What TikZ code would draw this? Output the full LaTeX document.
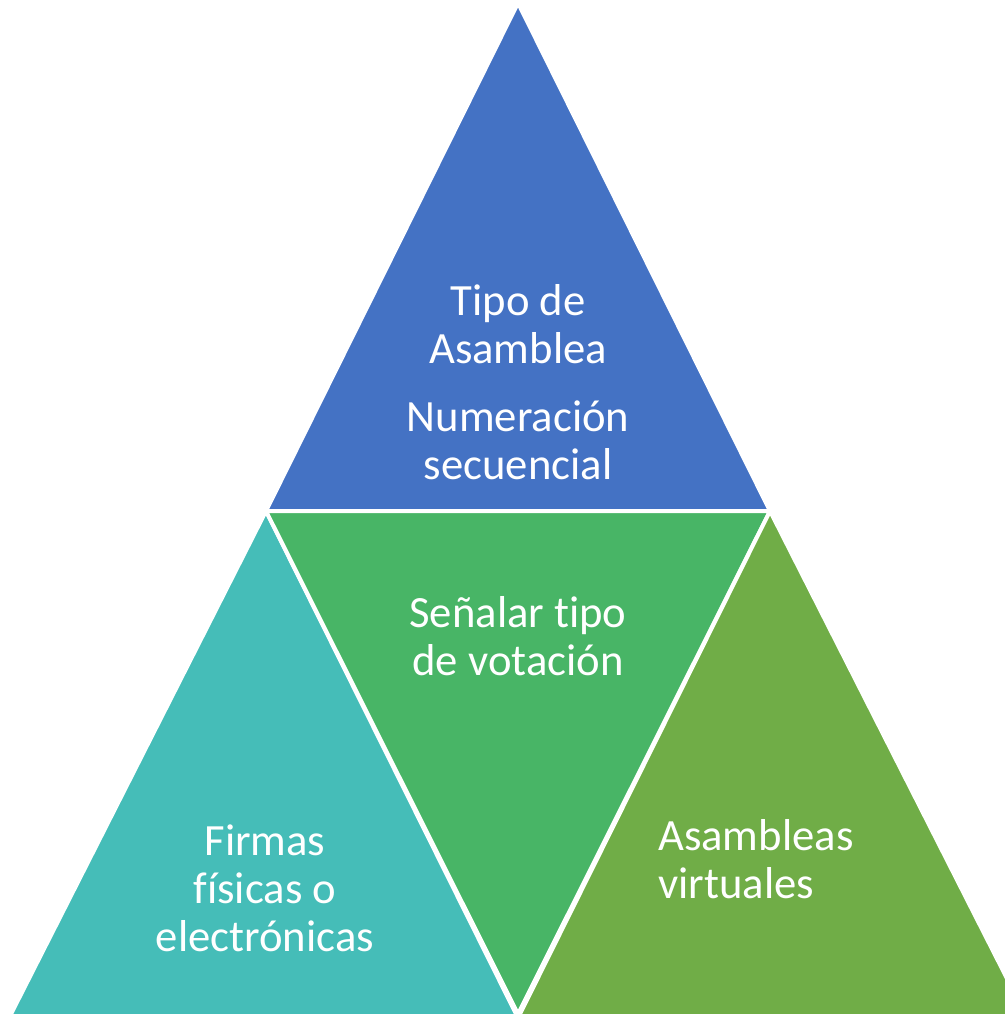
\documentclass[tikz,border=0pt]{standalone}
\usepackage{fontspec}
\setmainfont{Carlito}[RawFeature={-liga;-dlig;-calt;-clig}]
\definecolor{cblue}{HTML}{4472C4}
\definecolor{cgreen}{HTML}{48B566}
\definecolor{cteal}{HTML}{45BDB8}
\definecolor{colive}{HTML}{70AD47}
\begin{document}
\begin{tikzpicture}[x=0.75pt,y=-0.75pt,
  tri/.style={draw=white,line width=3pt,line join=miter},
  lbl/.style={text=white,font=\fontsize{33.5}{36}\selectfont,inner sep=0pt}]
\useasboundingbox (0,0) rectangle (1005,1014);
\clip (0,0) rectangle (1005,1014);
\coordinate (A) at (518,3);
\coordinate (B) at (266,511);
\coordinate (C) at (770,511);
\coordinate (D) at (9,1018);
\coordinate (E) at (518,1018);
\coordinate (F) at (1027,1018);
\coordinate (G) at (518,1014);
\filldraw[tri,fill=cblue] (A) -- (B) -- (C) -- cycle;
\filldraw[tri,fill=cteal] (B) -- (D) -- (E) -- cycle;
\filldraw[tri,fill=cgreen] (B) -- (C) -- (G) -- cycle;
\filldraw[tri,fill=colive] (C) -- (E) -- (F) -- cycle;
\node[lbl,align=center] (t1) at (518,324) {Tipo de\\Asamblea};
\node[lbl,align=center] (t2) at (518,440) {Numeración\\secuencial};
\node[lbl,align=center] (t3) at (518,636) {Señalar tipo\\de votación};
\node[lbl,align=center] (t4) at (265,888) {Firmas\\físicas o\\electrónicas};
\node[lbl,align=left,anchor=west] (t5) at (658,859) {Asambleas\\virtuales};
\end{tikzpicture}
\end{document}
